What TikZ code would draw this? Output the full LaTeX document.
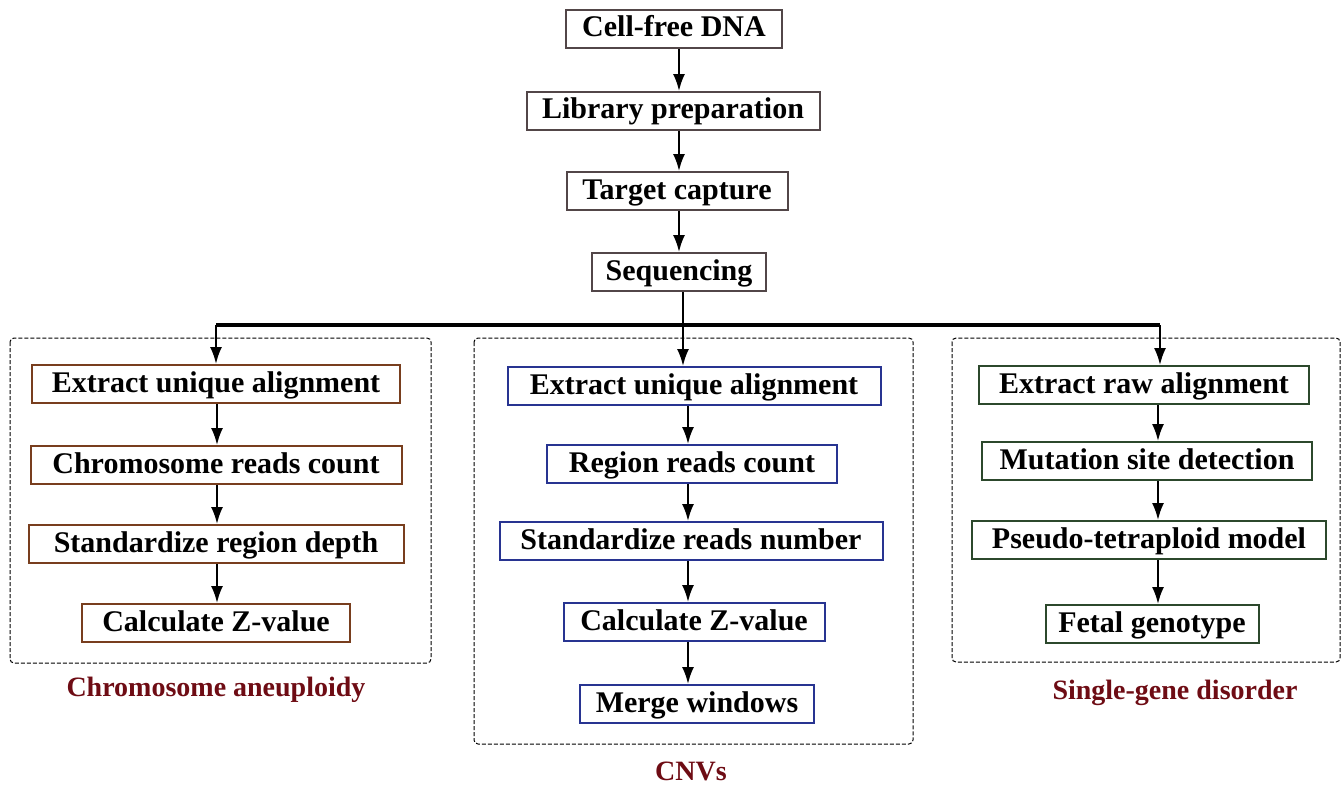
\documentclass[tikz,border=0pt]{standalone}
\usepackage{fontspec}
\setmainfont{Liberation Serif}
\usetikzlibrary{arrows.meta}

\definecolor{topline}{RGB}{82,70,72}
\definecolor{anline}{RGB}{120,62,30}
\definecolor{cnline}{RGB}{40,52,145}
\definecolor{sgline}{RGB}{44,72,44}
\definecolor{capred}{RGB}{110,12,20}

\begin{document}
\begin{tikzpicture}[x=0.5pt, y=-0.5pt]
            \tikzset{stepbox/.style={draw, line width=1pt, fill=white, minimum height=19pt, inner sep=0pt,
                        text height=11pt, text depth=3pt, font=\bfseries\fontsize{15}{18}\selectfont},
                     topbox/.style={stepbox, draw=topline},
                     anbox/.style={stepbox, draw=anline},
                     cnbox/.style={stepbox, draw=cnline},
                     sgbox/.style={stepbox, draw=sgline},
                     flow/.style={->, >={Latex[length=8.5pt, width=6pt]}, line width=1pt},
                     group/.style={dash pattern=on 2pt off 1pt, line width=0.5pt, rounded corners=2pt},
                     caption/.style={font=\bfseries\fontsize{14}{16}\selectfont, text=capred}}
            \useasboundingbox (0, 0) rectangle (1341, 787);
            % frames round the three branches
            \draw[group] (10, 338) rectangle (431, 663);
            \draw[group] (474, 338) rectangle (913, 744);
            \draw[group] (952, 338) rectangle (1340, 662);
            % common steps
            \node[topbox, minimum width=108pt] (cfdna) at (674, 29) {Cell-free DNA};
            \node[topbox, minimum width=146.5pt] (libprep) at (673, 111) {Library preparation};
            \node[topbox, minimum width=110.5pt] (capture) at (677, 191) {Target capture};
            \node[topbox, minimum width=87pt] (seq) at (679, 272) {Sequencing};
            % chromosome aneuploidy
            \node[anbox, minimum width=184pt] (an1) at (216, 384) {Extract unique alignment};
            \node[anbox, minimum width=185.5pt] (an2) at (216, 465) {Chromosome reads count};
            \node[anbox, minimum width=187.5pt] (an3) at (216, 544) {Standardize region depth};
            \node[anbox, minimum width=134pt] (an4) at (216, 623) {Calculate Z-value};
            % CNVs
            \node[cnbox, minimum width=186.5pt] (cn1) at (694, 386) {Extract unique alignment};
            \node[cnbox, minimum width=145pt] (cn2) at (692, 464) {Region reads count};
            \node[cnbox, minimum width=191.5pt] (cn3) at (691, 541) {Standardize reads number};
            \node[cnbox, minimum width=130.5pt] (cn4) at (694, 622) {Calculate Z-value};
            \node[cnbox, minimum width=117pt] (cn5) at (697, 704) {Merge windows};
            % single-gene disorder
            \node[sgbox, minimum width=165pt] (sg1) at (1144, 385) {Extract raw alignment};
            \node[sgbox, minimum width=165pt] (sg2) at (1147, 461) {Mutation site detection};
            \node[sgbox, minimum width=177pt] (sg3) at (1149, 540) {Pseudo-tetraploid model};
            \node[sgbox, minimum width=106.5pt] (sg4) at (1152, 624) {Fetal genotype};
            \node[caption] (ancap) at (216, 690) {Chromosome aneuploidy};
            \node[caption] (cncap) at (691, 771) {CNVs};
            \node[caption] (sgcap) at (1175, 693) {Single-gene disorder};
            % columns of the connectors
            \coordinate (colT) at (679, 0);
            \coordinate (colA) at (217, 0);
            \coordinate (colC) at (688, 0);
            \coordinate (colS) at (1158, 0);
            \coordinate (split) at (683, 325);
            \coordinate (barL) at (216, 325);
            \coordinate (barR) at (1160, 325);
            \draw[flow] (cfdna.south -| colT) -- (libprep.north -| colT);
            \draw[flow] (libprep.south -| colT) -- (capture.north -| colT);
            \draw[flow] (capture.south -| colT) -- (seq.north -| colT);
            \draw[line width=1pt] (seq.south -| split) -- (split);
            \draw[line width=2pt] (barL) -- (barR);
            \draw[flow] (barL) -- (an1.north -| barL);
            \draw[flow] (split) -- (cn1.north -| split);
            \draw[flow] (barR) -- (sg1.north -| barR);
            \foreach \a/\b in {an1/an2, an2/an3, an3/an4} {
                \draw[flow] (\a.south -| colA) -- (\b.north -| colA);
            }
            \foreach \a/\b in {cn1/cn2, cn2/cn3, cn3/cn4, cn4/cn5} {
                \draw[flow] (\a.south -| colC) -- (\b.north -| colC);
            }
            \foreach \a/\b in {sg1/sg2, sg2/sg3, sg3/sg4} {
                \draw[flow] (\a.south -| colS) -- (\b.north -| colS);
            }
        \end{tikzpicture}
\end{document}
